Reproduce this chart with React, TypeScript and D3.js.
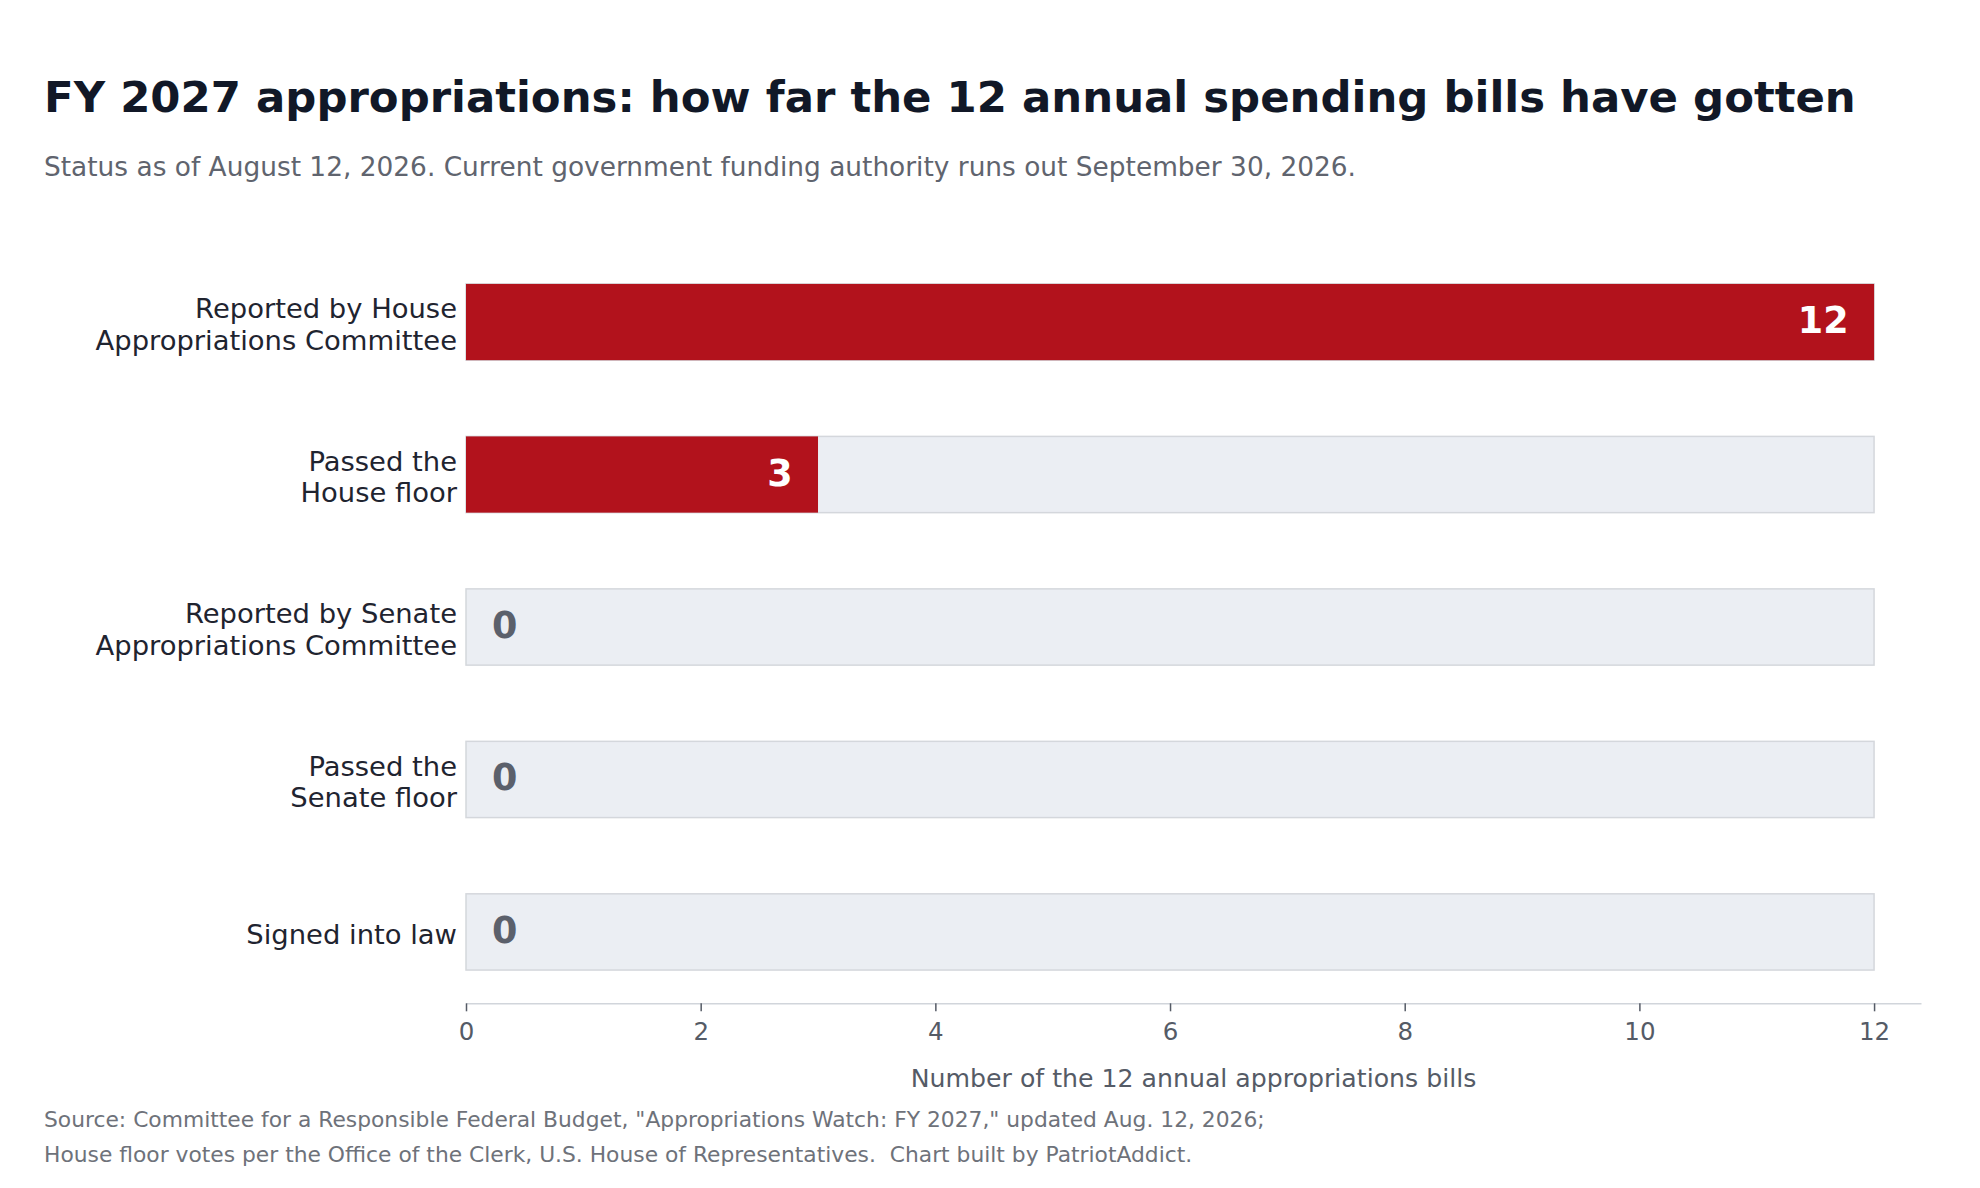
import React, { useEffect, useRef } from "react";
import * as d3 from "d3";

const stages = [
  "Reported by House\nAppropriations Committee",
  "Passed the\nHouse floor",
  "Reported by Senate\nAppropriations Committee",
  "Passed the\nSenate floor",
  "Signed into law",
];
const billsDone = [12, 3, 0, 0, 0];
const totalBills = 12;
const xTicks = [0, 2, 4, 6, 8, 10, 12];

const title = "FY 2027 appropriations: how far the 12 annual spending bills have gotten";
const subtitle = "Status as of August 12, 2026. Current government funding authority runs out September 30, 2026.";
const xLabel = "Number of the 12 annual appropriations bills";
const sourceLines = [
  "Source: Committee for a Responsible Federal Budget, \"Appropriations Watch: FY 2027,\" updated Aug. 12, 2026;",
  "House floor votes per the Office of the Clerk, U.S. House of Representatives.  Chart built by PatriotAddict.",
];

const W = 1980;
const H = 1188;
const FONT = "'DejaVu Sans', sans-serif";

export default function App() {
  const svgRef = useRef<SVGSVGElement>(null);

  useEffect(() => {
    if (!svgRef.current) return;
    const svg = d3.select(svgRef.current);
    svg.selectAll("*").remove();

    svg.append("rect").attr("width", W).attr("height", H).attr("fill", "#fff");

    const left = 466;
    const right = 1921;
    const top = 250.7;
    const bottom = 1003.3;

    const x = d3.scaleLinear().domain([0, 12.4]).range([left, right]);
    const y = d3.scaleBand<string>().domain(stages).range([top, bottom]).paddingInner(0.5).paddingOuter(0.218);

    // title block
    svg.append("text").attr("x", 44).attr("y", 111.7)
      .style("font-family", FONT).style("font-size", "43.4px").style("font-weight", "bold")
      .attr("fill", "#111827").text(title);
    svg.append("text").attr("x", 44).attr("y", 176)
      .style("font-family", FONT).style("font-size", "26.4px")
      .attr("fill", "#60646e").text(subtitle);

    // track bars (full 12)
    svg.append("g").selectAll("rect").data(stages).join("rect")
      .attr("x", x(0)).attr("y", d => y(d)!)
      .attr("width", x(totalBills) - x(0)).attr("height", y.bandwidth())
      .attr("fill", "#ebeef3").attr("stroke", "#d4d7dc").attr("stroke-width", 1.5);

    // progress bars
    svg.append("g").selectAll("rect").data(stages).join("rect")
      .attr("x", x(0)).attr("y", d => y(d)!)
      .attr("width", (d, i) => x(billsDone[i]) - x(0)).attr("height", y.bandwidth())
      .attr("fill", "#b2121c");

    // value labels
    stages.forEach((s, i) => {
      const v = billsDone[i];
      const cy = y(s)! + y.bandwidth() / 2;
      const inside = v > 0;
      svg.append("text")
        .attr("x", inside ? x(v - 0.2) - 2 : x(0.2) + 2.5)
        .attr("y", cy + 11)
        .attr("text-anchor", inside ? "end" : "start")
        .style("font-family", FONT).style("font-size", "36.5px").style("font-weight", "bold")
        .attr("fill", inside ? "#ffffff" : "#5b606b")
        .text(String(v));
    });

    // category labels
    stages.forEach(s => {
      const lines = s.split("\n");
      const cy = y(s)! + y.bandwidth() / 2;
      const lh = 31.7;
      const t = svg.append("text").attr("text-anchor", "end")
        .style("font-family", FONT).style("font-size", "27.4px").attr("fill", "#1f2430");
      lines.forEach((ln, j) => {
        t.append("tspan").attr("x", 457)
          .attr("y", cy + 12 + (j - (lines.length - 1) / 2) * lh)
          .text(ln);
      });
    });

    // x axis
    const ax = svg.append("g").attr("transform", `translate(0,${bottom})`)
      .call(d3.axisBottom(x).tickValues(xTicks).tickFormat(d => String(d)).tickSize(8).tickSizeOuter(0).tickPadding(11));
    ax.select(".domain").attr("stroke", "#d1d5db").attr("stroke-width", 1.5);
    ax.selectAll(".tick line").attr("stroke", "#555b66").attr("stroke-width", 1.5);
    ax.selectAll(".tick text").attr("fill", "#555b66")
      .style("font-family", FONT).style("font-size", "24.5px");

    svg.append("text").attr("x", (left + right) / 2).attr("y", 1086.7).attr("text-anchor", "middle")
      .style("font-family", FONT).style("font-size", "25.2px").attr("fill", "#555b66").text(xLabel);

    sourceLines.forEach((ln, i) => {
      svg.append("text").attr("x", 44).attr("y", 1126.7 + i * 35)
        .style("font-family", FONT).style("font-size", "21.8px").style("white-space", "pre")
        .attr("fill", "#6e727a").text(ln);
    });
  }, []);

  return (
    <svg ref={svgRef} width={W} height={H}
      style={{ position: "absolute", left: 0, top: 0, display: "block" }} />
  );
}
